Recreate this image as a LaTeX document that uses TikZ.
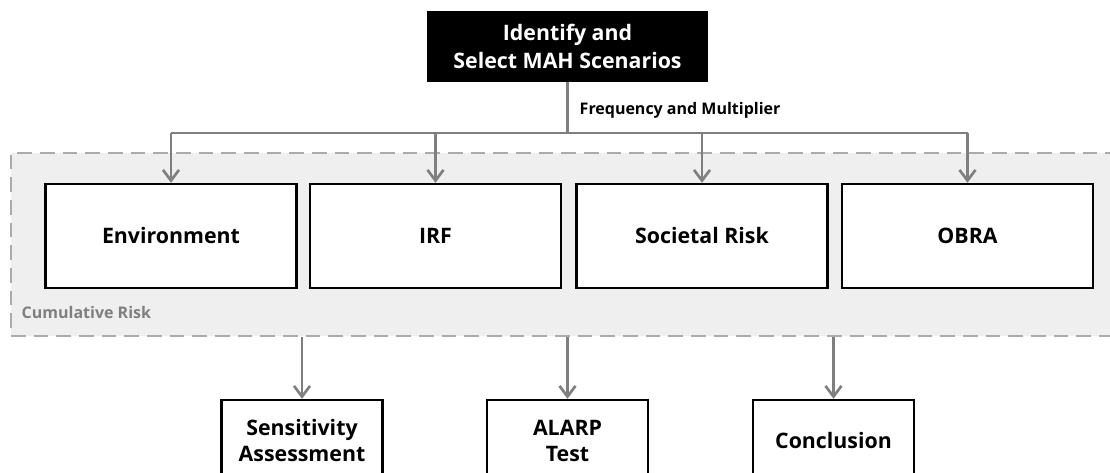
\documentclass[tikz,border=0pt]{standalone}
\usepackage{fontspec}
\setmainfont{Open Sans}
\usepackage{tikz}
\usetikzlibrary{arrows.meta,calc,positioning}
\definecolor{linegray}{HTML}{7F7F7F}
\definecolor{dashgray}{HTML}{ABABAB}
\definecolor{regiongray}{HTML}{EFEFEF}

\begin{document}
\begin{tikzpicture}[x=0.75pt,y=-0.75pt,
    riskbox/.style={draw=black,line width=1.8pt,fill=white,minimum width=251*0.75pt,minimum height=104*0.75pt,font=\bfseries\fontsize{16}{19}\selectfont},
    outbox/.style={draw=black,line width=1.8pt,fill=white,minimum width=161*0.75pt,minimum height=82*0.75pt,align=center,font=\bfseries\fontsize{16}{19.5}\selectfont},
    flow/.style={linegray,line width=2.2pt,-{Straight Barb[length=8pt,width=12pt,line width=2pt]}}]
              \useasboundingbox (0,0) rectangle (1110,473);
              % Cumulative risk region
              \node[draw=dashgray,fill=regiongray,line width=1.5pt,dash pattern=on 11pt off 6pt,minimum width=1109*0.75pt,minimum height=183*0.75pt] (cumrisk) at (565.5,244.5) {};
              \node[anchor=west,text=linegray,font=\bfseries\fontsize{12}{14}\selectfont] (cumlabel) at (17,313) {Cumulative Risk};
              % Scenario selection
              \node[fill=black,text=white,align=center,minimum width=281*0.75pt,minimum height=71*0.75pt,font=\bfseries\fontsize{16}{20.5}\selectfont] (identify) at (567.5,46.5) {Identify and\\Select MAH Scenarios};
              \node[anchor=west,font=\bfseries\fontsize{12}{14}\selectfont] (freq) at (575,110) {Frequency and Multiplier};
              % Risk measures
              \node[riskbox] (env) at (171,236) {Environment};
              \node[riskbox] (irf) at (435.5,236) {IRF};
              \node[riskbox] (soc) at (702,236) {Societal Risk};
              \node[riskbox] (obra) at (967.5,236) {OBRA};
              % Outputs
              \node[outbox] (sens) at (302,441) {Sensitivity\\Assessment};
              \node[outbox] (alarp) at (567.5,441) {ALARP\\Test};
              \node[outbox] (concl) at (833.5,441) {Conclusion};
              % Bus
              \coordinate (busc) at (identify.south |- 0,133);
              \coordinate (bus1) at (env.north |- busc);
              \coordinate (bus4) at (obra.north |- busc);
              \draw[linegray,line width=2.2pt] (identify.south) -- (busc);
              \draw[linegray,line width=2.2pt] (bus1) -- (bus4);
              \draw[flow] (bus1) -- (env.north);
              \draw[flow] (irf.north |- busc) -- (irf.north);
              \draw[flow] (soc.north |- busc) -- (soc.north);
              \draw[flow] (bus4) -- (obra.north);
              \draw[flow] (cumrisk.south -| sens.north) -- (sens.north);
              \draw[flow] (cumrisk.south -| alarp.north) -- (alarp.north);
              \draw[flow] (cumrisk.south -| concl.north) -- (concl.north);
\end{tikzpicture}
\end{document}
